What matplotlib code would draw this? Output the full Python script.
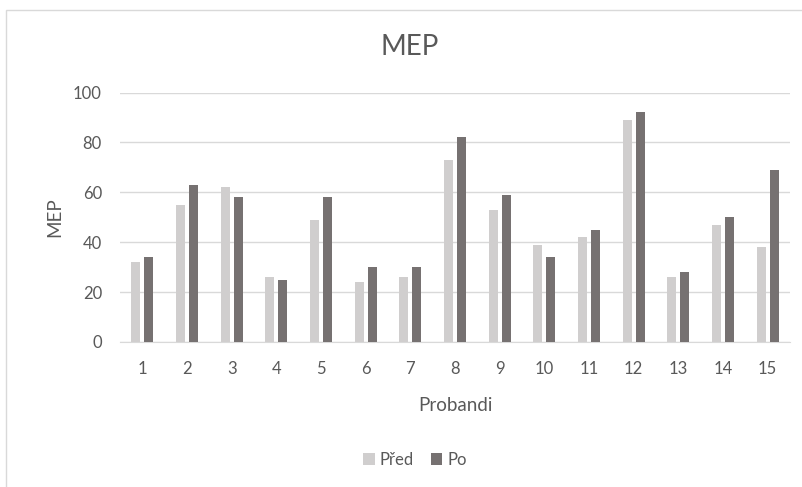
import matplotlib.pyplot as plt
import numpy as np
from matplotlib.patches import Rectangle

# data
probandi = [str(i) for i in range(1, 16)]
pred = [32, 55, 62, 26, 49, 24, 26, 73, 53, 39, 42, 89, 26, 47, 38]
po = [34, 63, 58, 25, 58, 30, 30, 82, 59, 34, 45, 92, 28, 50, 69]

TEXT = '#595959'
plt.rcParams['font.family'] = ['Lato', 'DejaVu Sans']

fig = plt.figure(figsize=(8.03, 4.87), dpi=100)
fig.patches.append(Rectangle((6 / 803, -0.1), 1.2, 1 - 10 / 487 + 0.1,
                             transform=fig.transFigure, fill=False,
                             edgecolor='#d9d9d9', linewidth=1))

ax = fig.add_axes([120 / 803, 1 - 342 / 487, 670 / 803, 249.5 / 487])
x = np.arange(len(probandi))
w = 0.2
ax.bar(x - 0.143, pred, w, color='#d0cece', label='Před', zorder=3)
ax.bar(x + 0.143, po, w, color='#767171', label='Po', zorder=3)

ax.set_xlim(-0.5, len(probandi) - 0.5)
ax.set_ylim(0, 100)
ax.set_yticks(range(0, 101, 20))
ax.set_xticks(x)
ax.set_xticklabels(probandi)
ax.grid(axis='y', color='#d9d9d9', linewidth=1, zorder=0)
for s in ['top', 'right', 'left']:
    ax.spines[s].set_visible(False)
ax.spines['bottom'].set_color('#d9d9d9')
ax.tick_params(length=0, labelsize=12, colors=TEXT)
ax.tick_params(axis='y', pad=13)
ax.tick_params(axis='x', pad=14)

ax.set_ylabel('MEP', fontsize=13.5, color=TEXT, labelpad=7)
ax.set_xlabel('Probandi', fontsize=13.5, color=TEXT, labelpad=14)
fig.text(410 / 803, 1 - 47 / 487, 'MEP', fontsize=20, color=TEXT,
         ha='center', va='center')

fig.legend(loc='center', bbox_to_anchor=(415 / 803, 1 - 460 / 487), ncol=2,
           frameon=False, fontsize=12, labelcolor=TEXT, handlelength=0.7,
           handleheight=0.7, handletextpad=0.3, columnspacing=1.0)

fig.savefig('out.png', dpi=100)
